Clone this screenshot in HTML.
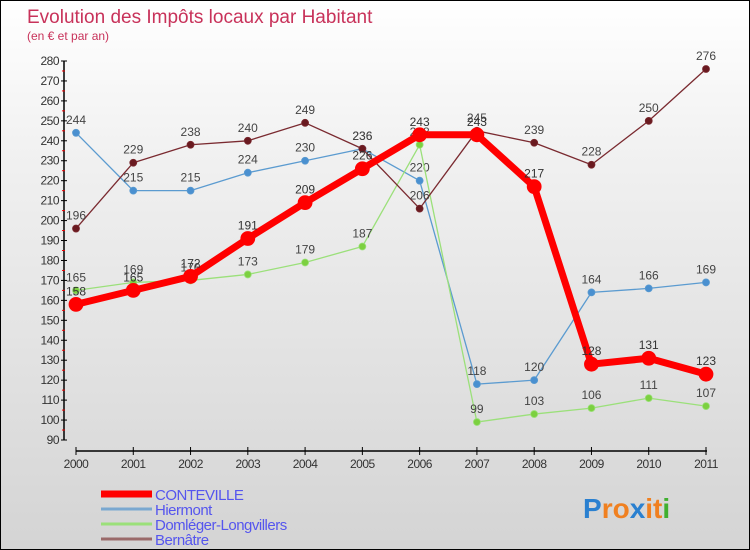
<!DOCTYPE html>
<html><head><meta charset="utf-8"><style>
body{margin:0}
#c{width:748px;height:548px;border:1px solid #000;position:relative;background:linear-gradient(#ffffff,#f0f0f0 30%,#d4d4d4);font-family:"Liberation Sans",sans-serif;overflow:hidden}
</style></head><body>
<div id="c">
<svg id="s" width="748" height="548" xmlns="http://www.w3.org/2000/svg"></svg>
</div>
<script>
const years=["2000","2001","2002","2003","2004","2005","2006","2007","2008","2009","2010","2011"];
const conteville=[158,165,172,191,209,226,243,243,217,128,131,123];
const hiermont=[244,215,215,224,230,236,220,118,120,164,166,169];
const domleger=[165,169,170,173,179,187,238,99,103,106,111,107];
const bernatre=[196,229,238,240,249,236,206,245,239,228,250,276];
const yTicks=[90,100,110,120,130,140,150,160,170,180,190,200,210,220,230,240,250,260,270,280];
const seriesNames=["CONTEVILLE","Hiermont","Domléger-Longvillers","Bernâtre"];
const NS="http://www.w3.org/2000/svg";
const s=document.getElementById('s');
function X(i){return 75+i*(705-75)/(years.length-1);}
function Y(v){return 439-(v-90)*(439-60)/190;}
function el(t,a,p){const e=document.createElementNS(NS,t);for(const k in a)e.setAttribute(k,a[k]);(p||s).appendChild(e);return e;}
let t=el('text',{x:26,y:22,fill:'#c8325a','font-size':19});t.textContent='Evolution des Impôts locaux par Habitant';


t=el('text',{x:26,y:39,fill:'#c8325a','font-size':12});t.textContent='(en € et par an)';


const ya=el('line',{x1:63,y1:60,x2:63,y2:439,stroke:'#000','stroke-width':1.5});


yTicks.forEach((v,k)=>{el('line',{x1:60,x2:66,y1:Y(v),y2:Y(v),stroke:'#000'});
if(k<yTicks.length-1)el('line',{x1:61,x2:64,y1:Y(v+5),y2:Y(v+5),stroke:'#e00'});
const l=el('text',{x:58,y:Y(v)+4,'text-anchor':'end','font-size':12,fill:'#333','letter-spacing':'-0.5'});l.textContent=v;

});
const xa=el('line',{x1:75,y1:450,x2:706,y2:450,stroke:'#000','stroke-width':1.5});


years.forEach((y,i)=>{el('line',{x1:X(i),x2:X(i),y1:446,y2:454,stroke:'#000'});
const l=el('text',{x:X(i),y:467,'text-anchor':'middle','font-size':12,fill:'#333','letter-spacing':'-0.5'});l.textContent=y;

});
function series(data,name,color,w,r,mk,lblc){
 const g=el('g',{});
 
 
 el('polyline',{points:data.map((v,i)=>X(i)+','+Y(v)).join(' '),fill:'none',stroke:color,'stroke-width':w,'stroke-linejoin':'round'},g);
 data.forEach((v,i)=>{const c=el('circle',{cx:X(i),cy:Y(v),r:r,fill:mk,stroke:color,'stroke-width':0.8},g);
  
  
  const l=el('text',{x:X(i),y:Y(v)-9,'text-anchor':'middle','font-size':12,fill:lblc},g);l.textContent=v;});
}
series(hiermont,'hiermont','#5b9bd0',1.3,3.5,'#4a90d0','#444');
series(domleger,'domleger','#9be07a',1.3,3.5,'#7cd040','#444');
series(bernatre,'bernatre','#7a2a30',1.3,3.5,'#6a1a20','#444');
series(conteville,'conteville','#f00',7,7,'#f00','#333');
const lc=['#f00','#7aa8d0','#9be07a','#9a6a6a'],lw=[7,3,3,3];
seriesNames.forEach((n,i)=>{const yy=493+i*15;
 el('line',{x1:100,x2:151,y1:yy,y2:yy,stroke:lc[i],'stroke-width':lw[i]});
 const l=el('text',{x:154,y:yy+6,'font-size':15,fill:'#5555ee','letter-spacing':'-0.5'});l.textContent=n;
 
 });
const p=el('text',{x:582,y:517,'font-size':28,'font-weight':'bold'});


[['P','#2a80d0'],['ro','#f08020'],['x','#2a80d0'],['i','#f08020'],['t','#f08020'],['i','#40b030']].forEach(a=>{const ts=el('tspan',{fill:a[1]},p);ts.textContent=a[0];});
</script>
</body></html>
